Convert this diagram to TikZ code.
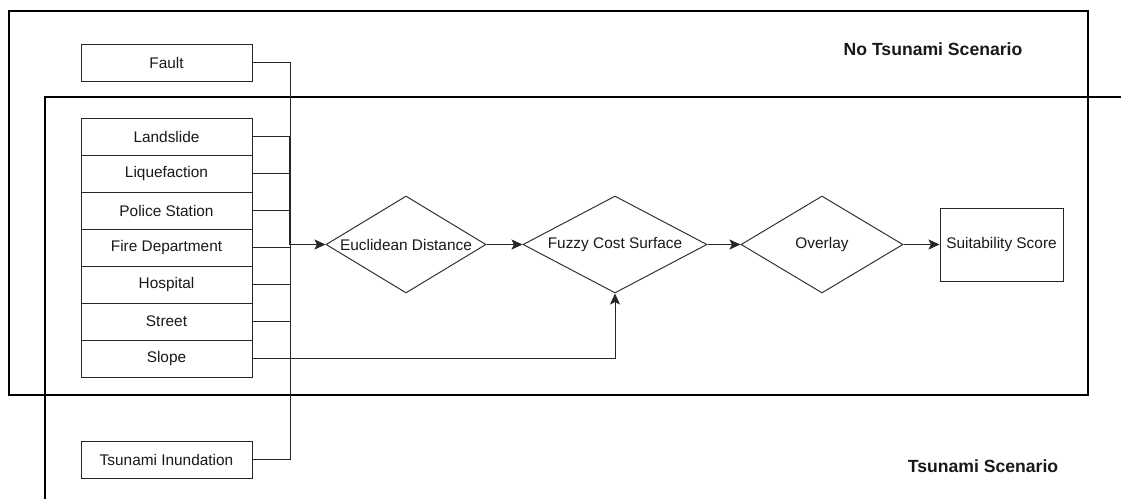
\documentclass[tikz,border=0pt]{standalone}
\usepackage{fontspec}
\setmainfont{Liberation Sans}
\usetikzlibrary{shapes.geometric,arrows.meta}
\begin{document}
\begin{tikzpicture}[x=1pt,y=-1pt,
  inbox/.style={draw=black!85,line width=1pt,minimum width=171pt,minimum height=37pt,inner sep=0pt,font=\fontsize{15.4}{17}\selectfont,text=black!90},
  dec/.style={draw=black!80,line width=1pt,diamond,inner sep=0pt,font=\fontsize{15.4}{17}\selectfont,text=black!90},
  frame/.style={draw=black,line width=2pt},
  link/.style={draw=black!85,line width=1pt},
  arr/.style={link,-{Stealth[length=11pt,width=10pt,inset=2.5pt]}},
  title/.style={font=\bfseries\fontsize{17.6}{19}\selectfont,text=black!90}]
\useasboundingbox (0,0) rectangle (1121,498);
\clip (0,0) rectangle (1121,498);
\fill[white] (0,0) rectangle (1121,498);
% frames
\draw[frame] (9,11) rectangle (1088,395);
\draw[frame] (45,97) rectangle (1140,520);
\node[title] (tnt) at (933,49) {No Tsunami Scenario};
\node[title] (tt) at (983,466) {Tsunami Scenario};
% inputs
\node[inbox] (fault) at (166.5,62.5) {Fault};
\node[inbox] (land) at (166.5,136.5) {Landslide};
\node[inbox] (liq) at (166.5,173.5) {Liquefaction};
\node[inbox] (pol) at (166.5,210.5) {Police Station};
\node[inbox] (fire) at (166.5,247.5) {Fire Department};
\node[inbox] (hosp) at (166.5,284.5) {Hospital};
\node[inbox] (str) at (166.5,321.5) {Street};
\node[inbox] (slope) at (166.5,358.5) {Slope};
\node[inbox] (tsu) at (166.5,459.5) {Tsunami Inundation};
% process
\node[dec,minimum width=160pt,minimum height=97pt,shape aspect=1.65] (euc) at (406,244.5) {Euclidean Distance};
\node[dec,minimum width=184pt,minimum height=97pt,shape aspect=1.9] (fuz) at (615,244.5) {Fuzzy Cost Surface};
\node[dec,minimum width=162pt,minimum height=97pt,shape aspect=1.67] (ovl) at (822,244.5) {Overlay};
\node[inbox,minimum width=123pt,minimum height=73pt] (suit) at (1001.5,244.5) {Suitability Score};
% bus
\coordinate (bus) at (290,244.5);
\draw[link] (fault.east) -| (tsu.east -| bus) -- (tsu.east);
\draw[link,line width=1.7pt] (land.east -| bus) -- (bus);
\foreach \n in {land,liq,pol,fire,hosp,str}
  \draw[link] (\n.east) -- (\n.east -| bus);
\draw[arr] (bus) -- (euc.west);
\draw[arr] (euc.east) -- (fuz.west);
\draw[arr] (fuz.east) -- (ovl.west);
\draw[arr] (ovl.east) -- (suit.west);
\draw[arr] (slope.east) -| (fuz.south);
\end{tikzpicture}
\end{document}
